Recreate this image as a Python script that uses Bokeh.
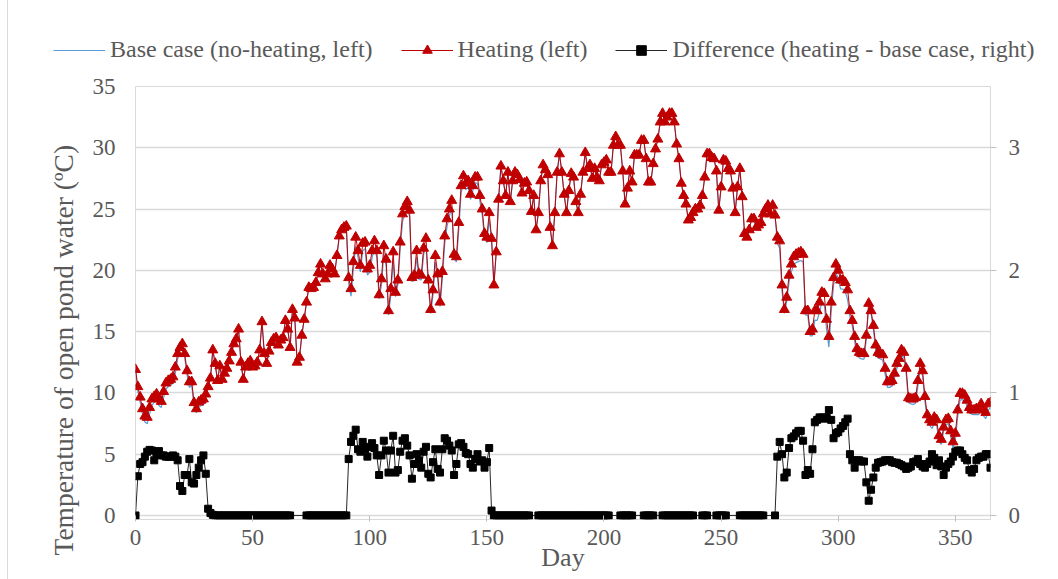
from bokeh.plotting import figure
from bokeh.layouts import column
from bokeh.models import (Range1d, LinearAxis, Legend, LegendItem, Title,
                          FixedTicker, ColumnDataSource)
from bokeh.embed import file_html
from bokeh.resources import INLINE

# ---------------------------------------------------------------- data
day = list(range(366))

# Open pond water temperature with heating (deg C), one value per day 0..365
heating = [
    11.9, 10.5, 9.65, 8.7, 8.1, 8.0, 8.8, 9.5, 9.7, 9.9,
    9.5, 9.3, 10.1, 10.8, 11.0, 11.1, 11.3, 12.1, 13.2, 13.7,
    14.0, 13.2, 11.8, 10.9, 10.9, 9.2, 8.7, 9.25, 9.4, 9.5,
    9.9, 10.5, 11.2, 13.5, 12.4, 11.0, 12.2, 11.1, 11.6, 12.0,
    12.6, 13.3, 14.0, 14.4, 15.2, 12.5, 11.1, 12.1, 12.4, 12.6,
    12.1, 12.2, 12.5, 13.5, 15.8, 13.2, 12.4, 13.4, 14.1, 14.4,
    14.5, 13.9, 14.3, 14.5, 15.9, 15.2, 13.7, 16.8, 16.1, 12.5,
    12.9, 14.7, 16.0, 17.4, 18.6, 18.5, 18.6, 19.0, 19.8, 20.5,
    19.7, 19.3, 19.7, 20.4, 20.1, 19.7, 21.2, 22.8, 23.3, 23.5,
    23.6, 19.4, 18.5, 20.7, 22.7, 21.6, 20.4, 22.2, 22.3, 20.1,
    20.4, 21.6, 22.4, 21.6, 18.0, 19.3, 22.0, 20.9, 16.7, 18.5,
    21.5, 18.2, 19.2, 22.3, 24.6, 25.2, 25.6, 24.9, 19.4, 19.6,
    21.6, 19.7, 19.6, 21.8, 22.6, 19.2, 16.8, 18.4, 21.2, 19.7,
    17.4, 19.9, 22.8, 24.2, 25.0, 25.7, 21.3, 21.1, 23.9, 26.9,
    27.7, 27.1, 27.3, 26.2, 26.9, 27.6, 27.6, 26.1, 25.0, 23.0,
    22.7, 24.7, 22.6, 18.8, 21.5, 25.8, 28.5, 27.3, 26.1, 28.0,
    25.6, 27.3, 28.0, 27.8, 27.4, 26.3, 27.1, 27.2, 26.5, 24.8,
    26.1, 23.3, 24.7, 27.3, 28.6, 28.2, 27.8, 23.5, 22.0, 24.7,
    28.0, 29.5, 28.0, 26.2, 24.7, 26.5, 27.9, 27.6, 25.6, 24.7,
    26.2, 28.0, 29.6, 28.3, 28.6, 27.5, 28.3, 27.6, 27.3, 28.6,
    28.8, 29.0, 28.0, 28.0, 30.2, 30.9, 30.2, 30.2, 28.1, 25.4,
    26.7, 28.1, 27.2, 29.4, 29.4, 29.4, 30.6, 30.6, 29.1, 27.2,
    27.2, 28.7, 29.9, 30.7, 32.1, 32.8, 32.1, 32.5, 32.8, 32.8,
    32.1, 30.3, 29.1, 27.1, 26.1, 25.4, 24.1, 24.3, 24.7, 25.0,
    25.0, 25.3, 26.1, 27.6, 29.5, 29.5, 29.2, 29.1, 28.1, 24.9,
    26.8, 29.0, 28.9, 28.3, 28.1, 26.7, 24.7, 26.8, 28.3, 26.0,
    23.0, 22.7, 23.3, 24.2, 24.2, 23.5, 23.7, 23.9, 24.6, 25.0,
    25.3, 24.6, 25.3, 24.5, 22.7, 22.4, 18.8, 16.8, 17.8, 19.6,
    20.5, 21.1, 21.3, 21.4, 21.5, 21.3, 16.7, 16.7, 15.0, 15.2,
    16.7, 16.7, 17.4, 18.2, 18.1, 16.0, 14.6, 17.4, 19.4, 20.5,
    20.0, 19.2, 19.2, 19.0, 18.4, 16.7, 15.9, 14.6, 13.6, 13.3,
    13.2, 13.2, 14.7, 17.3, 16.7, 15.5, 13.9, 13.3, 13.2, 13.1,
    12.0, 10.9, 10.9, 11.0, 11.6, 12.4, 12.8, 13.5, 13.3, 12.0,
    9.6, 9.5, 9.5, 9.6, 11.0, 12.4, 11.8, 9.7, 8.2, 7.8,
    7.6, 8.0, 7.8, 6.5, 6.2, 7.2, 7.8, 7.9, 6.9, 6.0,
    6.7, 8.6, 9.95, 9.95, 9.8, 9.4, 8.8, 8.6, 8.6, 8.7,
    8.7, 9.1, 8.6, 8.4, 9.1, 9.2,
]

# Days without a recorded difference value
diff_missing = [67, 68, 69, 70, 71, 72,
                169, 170, 171,
                203, 204, 205, 206,
                213, 214, 215, 216,
                222, 223, 224,
                239, 240, 241,
                245, 246, 247,
                253, 254, 255, 256, 257,
                269, 270, 271, 272]
diff_day = [d for d in day if d not in diff_missing]

# Difference heating - base case (deg C, right axis), one value per diff_day
difference = [
    # 0-33
    0.0, 0.32, 0.42, 0.435, 0.48, 0.52, 0.535, 0.53, 0.45, 0.51, 0.525,
    0.49, 0.49, 0.48, 0.48, 0.48, 0.49, 0.48, 0.45, 0.24, 0.20,
    0.33, 0.33, 0.46, 0.27, 0.26, 0.33, 0.39, 0.45, 0.49, 0.34,
    0.055, 0.02, 0.005,
    # 34-66
    0.0, 0.0, 0.0, 0.0, 0.0, 0.0, 0.0, 0.0, 0.0, 0.0, 0.0,
    0.0, 0.0, 0.0, 0.0, 0.0, 0.0, 0.0, 0.0, 0.0, 0.0, 0.0,
    0.0, 0.0, 0.0, 0.0, 0.0, 0.0, 0.0, 0.0, 0.0, 0.0, 0.0,
    # 73-90
    0.0, 0.0, 0.0, 0.0, 0.0, 0.0, 0.0, 0.0, 0.0,
    0.0, 0.0, 0.0, 0.0, 0.0, 0.0, 0.0, 0.0, 0.0,
    # 91-152
    0.46, 0.60, 0.65, 0.70, 0.54, 0.52, 0.60, 0.54, 0.48, 0.56,
    0.59, 0.55, 0.49, 0.33, 0.49, 0.61, 0.53, 0.35, 0.53, 0.65,
    0.35, 0.37, 0.52, 0.61, 0.63, 0.57, 0.49, 0.30, 0.42, 0.50,
    0.45, 0.39, 0.52, 0.56, 0.34, 0.31, 0.435, 0.54, 0.38, 0.35,
    0.54, 0.63, 0.61, 0.57, 0.53, 0.33, 0.42, 0.58, 0.59, 0.56,
    0.51, 0.50, 0.42, 0.39, 0.46, 0.50, 0.44, 0.45, 0.39, 0.435,
    0.55, 0.04,
    # 153-168
    0.0, 0.0, 0.0, 0.0, 0.0, 0.0, 0.0, 0.0,
    0.0, 0.0, 0.0, 0.0, 0.0, 0.0, 0.0, 0.0,
    # 172-202
    0.0, 0.0, 0.0, 0.0, 0.0, 0.0, 0.0, 0.0, 0.0, 0.0,
    0.0, 0.0, 0.0, 0.0, 0.0, 0.0, 0.0, 0.0, 0.0, 0.0,
    0.0, 0.0, 0.0, 0.0, 0.0, 0.0, 0.0, 0.0, 0.0, 0.0, 0.0,
    # 207-212
    0.0, 0.0, 0.0, 0.0, 0.0, 0.0,
    # 217-221
    0.0, 0.0, 0.0, 0.0, 0.0,
    # 225-238
    0.0, 0.0, 0.0, 0.0, 0.0, 0.0, 0.0,
    0.0, 0.0, 0.0, 0.0, 0.0, 0.0, 0.0,
    # 242-244
    0.0, 0.0, 0.0,
    # 248-252
    0.0, 0.0, 0.0, 0.0, 0.0,
    # 258-268
    0.0, 0.0, 0.0, 0.0, 0.0, 0.0, 0.0, 0.0, 0.0, 0.0, 0.0,
    # 273-365
    0.0,
    0.48, 0.60, 0.50, 0.31, 0.35, 0.55,
    0.63, 0.645, 0.67, 0.69, 0.69, 0.61, 0.33, 0.37, 0.34, 0.54,
    0.76, 0.78, 0.80, 0.80, 0.79, 0.80, 0.86, 0.78, 0.63, 0.67,
    0.68, 0.71, 0.73, 0.76, 0.79, 0.50, 0.45, 0.39, 0.45, 0.45,
    0.44, 0.44, 0.27, 0.12, 0.21, 0.31, 0.39, 0.43, 0.435, 0.44,
    0.45, 0.45, 0.45, 0.435, 0.43, 0.43, 0.42, 0.41, 0.40, 0.38,
    0.39, 0.40, 0.435, 0.44, 0.46, 0.42, 0.40, 0.39, 0.42, 0.44,
    0.50, 0.47, 0.41, 0.45, 0.40, 0.33, 0.39, 0.42, 0.44, 0.48,
    0.52, 0.53, 0.53, 0.50, 0.47, 0.45, 0.37, 0.35, 0.38, 0.45,
    0.47, 0.48, 0.48, 0.50, 0.50, 0.39,
]

# Base case = heating minus the heating effect
diff_by_day = dict(zip(diff_day, difference))
base_case = [h - diff_by_day.get(d, 0.0) for d, h in zip(day, heating)]

x_ticks = [0, 50, 100, 150, 200, 250, 300, 350]
left_ticks = [0, 5, 10, 15, 20, 25, 30, 35]
right_ticks = [0, 1, 2, 3]

series_labels = ["Base case (no-heating, left)", "Heating (left)",
                 "Difference (heating - base case, right)"]

# ---------------------------------------------------------------- style
FONT = "Liberation Serif"
TEXT = "#595959"
GRID = "#D9D9D9"
TICK = "#BFBFBF"
BLUE = "#5B9BD5"
RED = "#C00000"
DARK = "#262626"

EDGE = 8                 # outer chart-area edge on the left
LEGEND_H = 70
W, H = 1058 - EDGE, 579

# ---------------------------------------------------------------- main chart
p = figure(width=W, height=H - LEGEND_H, output_backend="svg", toolbar_location=None,
           x_range=Range1d(0, 365), y_range=Range1d(-0.33, 35),
           min_border_left=135 - EDGE, min_border_right=68,
           min_border_top=86 - LEGEND_H, min_border_bottom=60)
p.frame_align = False
p.extra_y_ranges = {"diff": Range1d(-0.033, 3.5)}

p.outline_line_color = GRID
p.background_fill_color = "white"
p.border_fill_color = "white"

p.xgrid.visible = False
p.ygrid.ticker = FixedTicker(ticks=left_ticks)
p.ygrid.grid_line_color = GRID
p.ygrid.grid_line_width = 1.3

# bottom axis
p.xaxis.ticker = FixedTicker(ticks=x_ticks)
p.xaxis.axis_line_color = None
p.xaxis.major_tick_line_color = TICK
p.xaxis.major_tick_in = 4
p.xaxis.major_tick_out = 2
p.xaxis.minor_tick_line_color = None
p.xaxis.major_label_standoff = 8
p.xaxis.axis_label = "Day"
p.xaxis.axis_label_standoff = -5
p.xaxis.axis_label_text_font = FONT
p.xaxis.axis_label_text_font_size = "26px"
p.xaxis.axis_label_text_font_style = "normal"
p.xaxis.axis_label_text_color = TEXT

# left axis
p.yaxis.ticker = FixedTicker(ticks=left_ticks)
p.yaxis.axis_line_color = None
p.yaxis.major_tick_line_color = None
p.yaxis.minor_tick_line_color = None
p.yaxis.major_label_standoff = 14

# right axis
raxis = LinearAxis(y_range_name="diff", ticker=FixedTicker(ticks=right_ticks))
raxis.axis_line_color = None
raxis.major_tick_line_color = TICK
raxis.major_tick_in = 0
raxis.major_tick_out = 6
raxis.minor_tick_line_color = None
raxis.major_label_standoff = 12
p.add_layout(raxis, "right")

for ax in (p.xaxis[0], p.yaxis[0], raxis):
    ax.major_label_text_font = FONT
    ax.major_label_text_font_size = "23px"
    ax.major_label_text_color = TEXT

# left axis title, placed outside the tick labels
ytitle = Title(text="Temperature of open pond water (\u00baC)", align="left",
               offset=-36, standoff=19, vertical_align="middle",
               text_font=FONT, text_font_size="27.5px", text_font_style="normal",
               text_color=TEXT)
p.add_layout(ytitle, "left")

src = ColumnDataSource(dict(day=day, heating=heating, base=base_case))
dsrc = ColumnDataSource(dict(day=diff_day, diff=difference))

p.line("day", "base", source=src, line_color=BLUE, line_width=1.2)
p.line("day", "heating", source=src, line_color=RED, line_width=1)
p.scatter("day", "heating", source=src, marker="triangle", size=10,
          fill_color=RED, line_color=RED)
p.line("day", "diff", source=dsrc, y_range_name="diff",
       line_color=DARK, line_width=1)
p.scatter("day", "diff", source=dsrc, y_range_name="diff",
          marker="square", size=7, fill_color="black", line_color="black")

# ---------------------------------------------------------------- legend strip
lg = figure(width=W, height=LEGEND_H, output_backend="svg", toolbar_location=None,
            x_range=Range1d(0, 1), y_range=Range1d(0, 1),
            x_axis_type=None, y_axis_type=None,
            min_border_left=0, min_border_right=0, min_border_top=0, min_border_bottom=0)
lg.frame_align = False
lg.outline_line_color = None
lg.grid.visible = False
lg.border_fill_color = "white"

# swatch renderers: one point each, kept outside the visible range
swatch = ColumnDataSource(dict(x=[-5.0], y=[-5.0]))
k_base = lg.line("x", "y", source=swatch, line_color=BLUE, line_width=1.2)
k_heat_l = lg.line("x", "y", source=swatch, line_color=RED, line_width=1.2)
k_heat_m = lg.scatter("x", "y", source=swatch, marker="triangle", size=10,
                      fill_color=RED, line_color=RED)
k_diff_l = lg.line("x", "y", source=swatch, line_color=DARK, line_width=1.2)
k_diff_m = lg.scatter("x", "y", source=swatch, marker="square", size=7,
                      fill_color="black", line_color="black")

legend = Legend(items=[
    LegendItem(label=series_labels[0], renderers=[k_base]),
    LegendItem(label=series_labels[1], renderers=[k_heat_l, k_heat_m]),
    LegendItem(label=series_labels[2], renderers=[k_diff_l, k_diff_m]),
], orientation="horizontal", location=(53 - EDGE, 7))
legend.label_text_font = FONT
legend.label_text_font_size = "24px"
legend.label_text_color = TEXT
legend.glyph_width = 52
legend.glyph_height = 24
legend.label_height = 24
legend.label_standoff = 5
legend.spacing = 28
legend.padding = 0
legend.margin = 0
legend.border_line_color = None
legend.background_fill_alpha = 0
lg.add_layout(legend)

page = column(lg, p, spacing=0,
              styles={"margin-left": f"{EDGE - 1}px", "border-left": "1px solid #D9D9D9"})
open("out.html", "w").write(file_html(page, INLINE))
